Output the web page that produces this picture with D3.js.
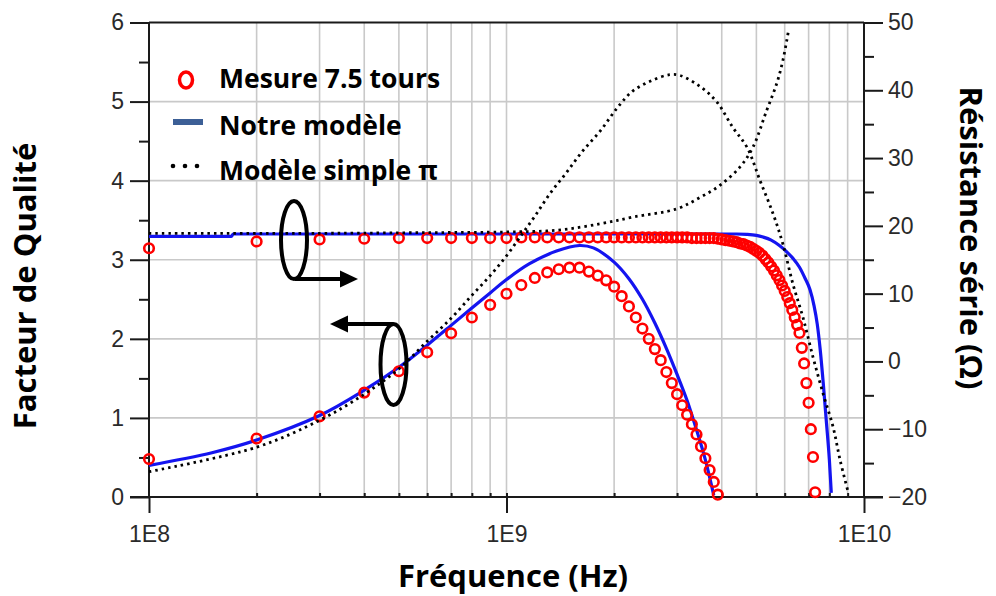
<!DOCTYPE html>
<html><head><meta charset="utf-8">
<script src="https://cdn.jsdelivr.net/npm/d3@7"></script>
<style>body{margin:0;background:#fff}</style>
</head><body>
<svg id="c" width="996" height="596"></svg>
<script>
// ---------- data ----------
const xTickValuesGHz = [0.1, 1, 10];
const xTickLabels = ["1E8", "1E9", "1E10"];
const gridFreqGHz = [0.2,0.3,0.4,0.5,0.6,0.7,0.8,0.9,1,2,3,4,5,6,7,8,9];
const leftTicks = [0,1,2,3,4,5,6];
const leftMinorTicks = [0.5,1.5,2.5,3.5,4.5,5.5];
const rightTicks = [-20,-10,0,10,20,30,40,50];
const rightMinorTicks = [-15,-5,5,15,25,35,45];
const seriesNames = ["Mesure 7.5 tours", "Notre modèle", "Modèle simple π"];

// measured quality factor (left axis)
const measQFreqGHz = [0.1,0.2,0.3,0.4,0.5,0.6,0.7,0.8,0.9,1.0,
  1.1,1.2,1.3,1.4,1.5,1.6,1.7,1.8,1.9,2.0,
  2.1,2.2,2.3,2.4,2.5,2.6,2.7,2.8,2.9,3.0,
  3.1,3.2,3.3,3.4,3.5,3.6,3.7,3.8,3.9];
const measQ = [0.48,0.74,1.02,1.32,1.59,1.83,2.07,2.27,2.43,2.57,
  2.68,2.77,2.84,2.88,2.90,2.90,2.85,2.80,2.74,2.66,
  2.54,2.41,2.27,2.13,2.00,1.87,1.73,1.58,1.44,1.30,
  1.16,1.04,0.92,0.79,0.64,0.49,0.34,0.19,0.03];

// measured series resistance (right axis)
const measRFreqGHz = [0.1,0.2,0.3,0.4,0.5,0.6,0.7,0.8,0.9,1.0,
  1.1,1.2,1.3,1.4,1.5,1.6,1.7,1.8,1.9,2.0,
  2.1,2.2,2.3,2.4,2.5,2.6,2.7,2.8,2.9,3.0,
  3.1,3.2,3.3,3.4,3.5,3.6,3.7,3.8,3.9,4.0,
  4.1,4.2,4.3,4.4,4.5,4.6,4.7,4.8,4.9,5.0,
  5.1,5.2,5.3,5.4,5.5,5.6,5.7,5.8,5.9,6.0,
  6.1,6.2,6.3,6.4,6.5,6.6,6.7,6.8,6.9,7.0,
  7.1,7.2,7.3];
const measR = [16.7,17.7,18.0,18.1,18.2,18.2,18.2,18.2,18.2,18.2,
  18.3,18.3,18.3,18.3,18.3,18.3,18.3,18.3,18.3,18.3,
  18.3,18.3,18.3,18.3,18.3,18.3,18.3,18.3,18.3,18.3,
  18.3,18.3,18.2,18.2,18.2,18.2,18.2,18.2,18.1,18.0,
  17.9,17.8,17.7,17.6,17.4,17.3,17.1,16.9,16.6,16.3,
  16.0,15.6,15.1,14.6,14.0,13.4,12.7,12.0,11.2,10.4,
  9.5,8.6,7.6,6.5,5.4,4.2,2.0,-0.3,-3.2,-6.1,
  -10.0,-14.1,-19.3];

// our model (blue)
const modelQFreqGHz = [0.1,0.15,0.2,0.3,0.4,0.5,0.6,0.7,0.8,0.9,1.0,1.16,1.38,1.6,1.75,2.0,2.2,2.4,2.6,2.8,3.0,3.2,3.4,3.6,3.8];
const modelQ = [0.40,0.56,0.72,1.03,1.35,1.64,1.92,2.17,2.39,2.58,2.75,2.95,3.11,3.18,3.15,2.97,2.76,2.50,2.20,1.88,1.55,1.22,0.85,0.47,0.02];
const modelRFreqGHz = [0.1,0.17,0.172,0.5,1,2,3,4,4.4,4.7,5.0,5.22,5.5,5.8,6.1,6.33,6.6,6.85,7.06,7.25,7.4,7.54,7.7,7.85,8.0,8.1];
const modelR = [18.45,18.45,18.8,18.8,18.8,18.8,18.8,18.8,18.8,18.75,18.6,18.35,17.9,17.1,16.1,15.2,13.9,12.2,10.6,8.2,5.5,1.8,-3.5,-9.0,-14.5,-19.4];

// simple pi model (black dotted)
const simpleQFreqGHz = [0.1,0.2,0.3,0.4,0.5,0.6,0.7,0.8,0.9,1.0,1.1,1.2,1.32,1.47,1.63,1.83,2.04,2.25,2.53,2.86,3.06,3.48,3.87,4.3,4.71,5.12,5.57,5.93,6.33,6.75,7.2,7.68,8.19,8.57,9.02];
const simpleQ = [0.32,0.63,0.97,1.30,1.62,1.97,2.26,2.55,2.80,3.05,3.31,3.55,3.83,4.10,4.37,4.63,4.92,5.13,5.26,5.34,5.33,5.19,5.00,4.67,4.42,4.00,3.58,3.20,2.69,2.27,1.77,1.31,0.89,0.47,0.07];
const simpleRFreqGHz = [0.1,0.3,0.6,1.0,1.38,1.83,2.26,2.99,3.48,3.96,4.5,4.89,5.34,5.7,5.93,6.14];
const simpleR = [18.9,18.9,19.0,19.1,19.35,20.3,21.3,22.5,24.2,26.0,28.7,31.6,37.0,41.0,44.4,48.6];

// ---------- chart ----------
const svg = d3.select("#c");
const L = 149, R = 864, T = 22.5, B = 497;
const x = d3.scaleLog().domain([0.1, 10]).range([L, R]);
const yL = d3.scaleLinear().domain([0, 6]).range([B, T]);
const yR = d3.scaleLinear().domain([-20, 50]).range([B, T]);

const tickFont = "'Liberation Sans', Arial, sans-serif";
const titleFont = "'Open Sans', Lato, sans-serif";
const gridCol = "#c9c9c9";
const axisCol = "#1a1a1a";

// grid
const g = svg.append("g");
g.selectAll("line.vg").data(gridFreqGHz).join("line")
  .attr("x1", d => x(d)).attr("x2", d => x(d)).attr("y1", T).attr("y2", B)
  .attr("stroke", gridCol).attr("stroke-width", 1.6);
g.selectAll("line.hg").data([1,2,3,4,5]).join("line")
  .attr("x1", L).attr("x2", R).attr("y1", d => yL(d)).attr("y2", d => yL(d))
  .attr("stroke", gridCol).attr("stroke-width", 1.6);

// axes with d3 axis generators
const leftAxis = svg.append("g").attr("transform", `translate(${L},0)`)
  .call(d3.axisLeft(yL).tickValues(leftTicks).tickSize(19).tickPadding(6).tickFormat(d3.format("d")));
const leftMinor = svg.append("g").attr("transform", `translate(${L},0)`)
  .call(d3.axisLeft(yL).tickValues(leftMinorTicks).tickSize(10).tickFormat(""));
const rightAxis = svg.append("g").attr("transform", `translate(${R},0)`)
  .call(d3.axisRight(yR).tickValues(rightTicks).tickSize(19).tickPadding(5).tickFormat(d3.format("d")));
const rightMinor = svg.append("g").attr("transform", `translate(${R},0)`)
  .call(d3.axisRight(yR).tickValues(rightMinorTicks).tickSize(10).tickFormat(""));
const bottomAxis = svg.append("g").attr("transform", `translate(0,${B})`)
  .call(d3.axisBottom(x).tickValues(xTickValuesGHz).tickSize(16).tickPadding(8)
    .tickFormat((d, i) => xTickLabels[i]));
const bottomMinor = svg.append("g").attr("transform", `translate(0,${B})`)
  .call(d3.axisTop(x).tickValues(gridFreqGHz).tickSize(4).tickFormat(""));

[leftAxis, leftMinor, rightAxis, rightMinor, bottomAxis, bottomMinor].forEach(a => {
  a.select(".domain").remove();
  a.selectAll(".tick line").attr("stroke", axisCol).attr("stroke-width", 2);
  a.selectAll("text").attr("font-family", tickFont).attr("font-size", 23)
    .attr("fill", "#2a2a2a");
});
bottomAxis.selectAll("text").attr("dy", "0.9em");

// frame lines
svg.append("line").attr("x1", L).attr("x2", L).attr("y1", T).attr("y2", B).attr("stroke", axisCol).attr("stroke-width", 2);
svg.append("line").attr("x1", R).attr("x2", R).attr("y1", T).attr("y2", B).attr("stroke", axisCol).attr("stroke-width", 2);
svg.append("line").attr("x1", L).attr("x2", R).attr("y1", T).attr("y2", T).attr("stroke", axisCol).attr("stroke-width", 2);
svg.append("line").attr("x1", L - 19).attr("x2", R + 19).attr("y1", B).attr("y2", B).attr("stroke", axisCol).attr("stroke-width", 2);

// series
const zip = (a, b) => a.map((v, i) => [v, b[i]]);
const lineLs = d3.line().x(d => x(d[0])).y(d => yL(d[1])).curve(d3.curveCatmullRom.alpha(0.5));
const lineRm = d3.line().x(d => x(d[0])).y(d => yR(d[1])).curve(d3.curveMonotoneX);
const lineRs = d3.line().x(d => x(d[0])).y(d => yR(d[1])).curve(d3.curveCatmullRom.alpha(0.5));
const plot = svg.append("g");
const blue = "#1414f0";
plot.append("path").attr("d", lineLs(zip(modelQFreqGHz, modelQ))).attr("fill", "none").attr("stroke", blue).attr("stroke-width", 3.2);
plot.append("path").attr("d", lineRm(zip(modelRFreqGHz, modelR))).attr("fill", "none").attr("stroke", blue).attr("stroke-width", 3.2);

plot.selectAll("circle.mq").data(zip(measQFreqGHz, measQ)).join("circle")
  .attr("cx", d => x(d[0])).attr("cy", d => yL(d[1])).attr("r", 4.8)
  .attr("fill", "none").attr("stroke", "#ff0000").attr("stroke-width", 2.6);
plot.selectAll("circle.mr").data(zip(measRFreqGHz, measR)).join("circle")
  .attr("cx", d => x(d[0])).attr("cy", d => yR(d[1])).attr("r", 4.8)
  .attr("fill", "none").attr("stroke", "#ff0000").attr("stroke-width", 2.6);

plot.append("path").attr("d", lineLs(zip(simpleQFreqGHz, simpleQ))).attr("fill", "none").attr("stroke", "#000").attr("stroke-width", 2.8).attr("stroke-dasharray", "2.5,4");
plot.append("path").attr("d", lineRs(zip(simpleRFreqGHz, simpleR))).attr("fill", "none").attr("stroke", "#000").attr("stroke-width", 2.8).attr("stroke-dasharray", "2.5,4");

// annotations: ellipses with arrows
const ann = svg.append("g").attr("stroke", "#000").attr("stroke-width", 4).attr("fill", "none");
ann.append("ellipse").attr("cx", 294).attr("cy", 240).attr("rx", 13).attr("ry", 39);
ann.append("line").attr("x1", 295).attr("x2", 342).attr("y1", 279).attr("y2", 279);
svg.append("path").attr("d", "M358,279 L340,270.5 L340,287.5 Z").attr("fill", "#000");
ann.append("ellipse").attr("cx", 393.5).attr("cy", 364.5).attr("rx", 13).attr("ry", 40.5);
ann.append("line").attr("x1", 393).attr("x2", 346).attr("y1", 324).attr("y2", 324);
svg.append("path").attr("d", "M330,324 L348,315.5 L348,332.5 Z").attr("fill", "#000");

// legend
const lg = svg.append("g").attr("font-family", titleFont).attr("font-weight", "bold").attr("font-size", 26.5).attr("fill", "#000");
svg.append("ellipse").attr("cx", 186).attr("cy", 80).attr("rx", 6.5).attr("ry", 8).attr("fill", "none").attr("stroke", "#ff0000").attr("stroke-width", 3.5);
lg.append("text").attr("x", 219).attr("y", 88).text(seriesNames[0]);
svg.append("line").attr("x1", 173).attr("x2", 203).attr("y1", 122).attr("y2", 122).attr("stroke", "#3c5f96").attr("stroke-width", 6);
lg.append("text").attr("x", 219).attr("y", 135).text(seriesNames[1]);
svg.selectAll("circle.ld").data([173, 185, 197]).join("circle")
  .attr("cx", d => d).attr("cy", 166).attr("r", 2.3).attr("fill", "#000");
lg.append("text").attr("x", 219).attr("y", 180).text(seriesNames[2]);

// axis titles
const tt = svg.append("g").attr("font-family", titleFont).attr("font-weight", "bold").attr("font-size", 31).attr("fill", "#000").attr("text-anchor", "middle");
tt.append("text").attr("transform", "translate(36,286) rotate(-90)").text("Facteur de Qualité");
tt.append("text").attr("transform", "translate(960,238) rotate(90)").text("Résistance série (Ω)");
tt.append("text").attr("x", 513).attr("y", 587).text("Fréquence (Hz)");
</script>
</body></html>
